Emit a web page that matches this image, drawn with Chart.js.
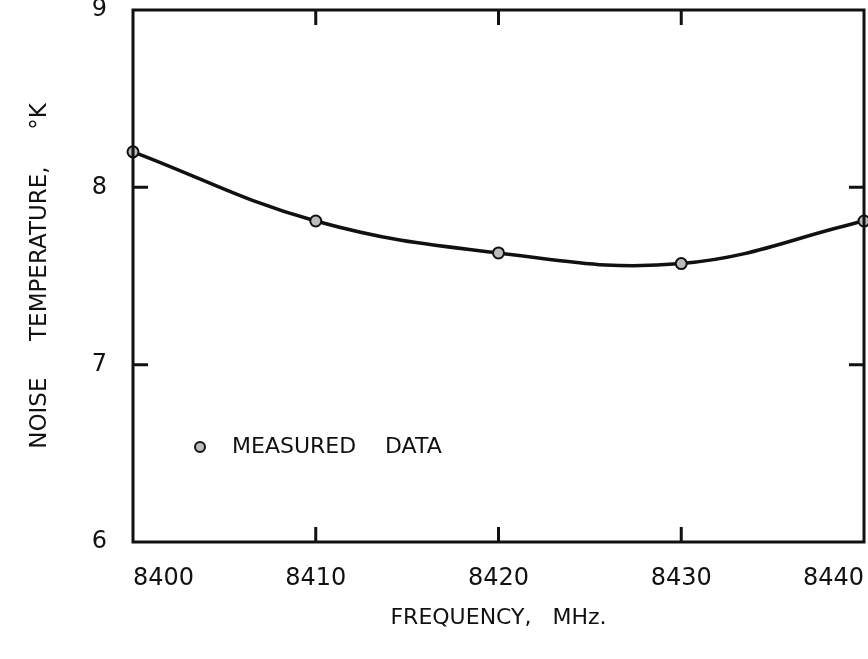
<!DOCTYPE html>
<html>
<head>
<meta charset="utf-8">
<script src="https://cdn.jsdelivr.net/npm/chart.js@4.4.0/dist/chart.umd.min.js"></script>
<style>
  html, body { margin: 0; padding: 0; background: #fff; overflow: hidden; }
  #wrap { width: 868px; height: 659px; position: relative; }
  #noiseChart { display: block; }
</style>
</head>
<body>
<div id="wrap"><canvas id="noiseChart"></canvas></div>
<script>
// values
const frequencies = [8400, 8410, 8420, 8430, 8440];   // MHz
const noiseTemps = [8.20, 7.81, 7.63, 7.57, 7.81];    // deg K
const xTicks = [8410, 8420, 8430];   // inward tick marks
const yTicks = [7, 8];

const ink = '#111';
const font = "'DejaVu Sans', sans-serif";

// box round the plot, inward ticks and the little legend
const framePlugin = {
    id: 'frame',
    afterDatasetsDraw(chart) {
        const { ctx, chartArea: a, scales } = chart;
        const len = 15;
        ctx.save();
        ctx.strokeStyle = ink;
        ctx.lineWidth = 3;
        ctx.strokeRect(a.left, a.top, a.right - a.left, a.bottom - a.top);

        ctx.beginPath();
        xTicks.forEach(v => {
            const px = scales.x.getPixelForValue(v);
            ctx.moveTo(px, a.top); ctx.lineTo(px, a.top + len);
            ctx.moveTo(px, a.bottom); ctx.lineTo(px, a.bottom - len);
        });
        yTicks.forEach(v => {
            const py = scales.y.getPixelForValue(v);
            ctx.moveTo(a.left, py); ctx.lineTo(a.left + len, py);
            ctx.moveTo(a.right, py); ctx.lineTo(a.right - len, py);
        });
        ctx.stroke();

        // legend
        const lx = 200, ly = 447;
        ctx.beginPath();
        ctx.arc(lx, ly, 5, 0, Math.PI * 2);
        ctx.fillStyle = '#bbb';
        ctx.fill();
        ctx.lineWidth = 2;
        ctx.stroke();
        ctx.fillStyle = ink;
        ctx.font = `22px ${font}`;
        ctx.textBaseline = 'middle';
        ctx.fillText('MEASURED', 232, ly);
        ctx.fillText('DATA', 385, ly);
        ctx.restore();
    }
};

new Chart(document.getElementById('noiseChart'), {
    type: 'line',
    data: {
        datasets: [{
            label: 'Measured data',
            data: frequencies.map((f, i) => ({ x: f, y: noiseTemps[i] })),
            borderColor: ink,
            borderWidth: 3.5,
            tension: 0.4,
            pointRadius: 5.5,
            pointBackgroundColor: '#bbb',
            pointBorderColor: ink,
            pointBorderWidth: 2,
            clip: false
        }]
    },
    options: {
        responsive: true,
        maintainAspectRatio: false,
        animation: false,
        layout: { autoPadding: false, padding: { top: 10, right: 4, left: 0, bottom: 0 } },
        plugins: {
            legend: { display: false },
            tooltip: { enabled: false }
        },
        scales: {
            x: {
                type: 'linear',
                min: 8400,
                max: 8440,
                afterFit: s => { s.height = 117; s.paddingLeft = 0; s.paddingRight = 0; },
                grid: { display: false, drawTicks: false },
                border: { display: false },
                ticks: {
                    stepSize: 10,
                    align: 'inner',
                    padding: 22,
                    color: ink,
                    font: { family: font, size: 24 },
                    callback: v => String(v)
                },
                title: {
                    display: true,
                    text: 'FREQUENCY,   MHz.',
                    color: ink,
                    font: { family: font, size: 22 },
                    padding: { top: 0, bottom: 28 }
                }
            },
            y: {
                min: 6,
                max: 9,
                afterFit: s => { s.width = 133; s.paddingTop = 0; s.paddingBottom = 0; },
                grid: { display: false, drawTicks: false },
                border: { display: false },
                ticks: {
                    stepSize: 1,
                    padding: 26,
                    color: ink,
                    font: { family: font, size: 24 }
                },
                title: {
                    display: true,
                    text: 'NOISE     TEMPERATURE,     °K',
                    color: ink,
                    font: { family: font, size: 23 },
                    padding: { top: 26, bottom: 0 }
                }
            }
        }
    },
    plugins: [framePlugin]
});
</script>
</body>
</html>
